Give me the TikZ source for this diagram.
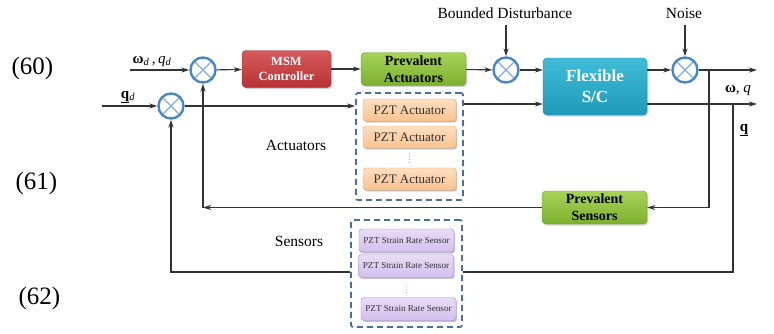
\documentclass[tikz,border=0pt]{standalone}
\usepackage{fontspec}
\setmainfont{Liberation Serif}
\usetikzlibrary{arrows.meta,shadows}

\definecolor{wire}{HTML}{333333}
\definecolor{sumblue}{HTML}{4A86C5}
\definecolor{sumx}{HTML}{7FAEDD}
\definecolor{dashblue}{HTML}{4A6F9C}
\definecolor{redtop}{HTML}{D65A5C}
\definecolor{redbot}{HTML}{B73234}
\definecolor{redrim}{HTML}{982A2C}
\definecolor{greentop}{HTML}{A6D457}
\definecolor{greenbot}{HTML}{7DAF2E}
\definecolor{greenrim}{HTML}{6A9628}
\definecolor{cyantop}{HTML}{40BCD8}
\definecolor{cyanbot}{HTML}{1F9AB8}
\definecolor{cyanrim}{HTML}{1A86A2}
\definecolor{pzttop}{HTML}{FEDFC0}
\definecolor{pztbot}{HTML}{FBC28F}
\definecolor{pztrim}{HTML}{F5A35B}
\definecolor{sentop}{HTML}{E8DCF6}
\definecolor{senbot}{HTML}{D3BFEE}
\definecolor{senrim}{HTML}{A58BD3}

\tikzset{
  wireline/.style={draw=wire, line width=1.1pt},
  arr/.style={wireline, -{Stealth[length=8pt,width=5pt,inset=2.5pt]}},
  sumnode/.style={circle, draw=sumblue, line width=2.4pt, fill=white,
    minimum size=25pt, inner sep=0pt,
    path picture={\draw[sumx, line width=1.2pt]
      (path picture bounding box.north west) -- (path picture bounding box.south east)
      (path picture bounding box.north east) -- (path picture bounding box.south west);}},
  glossbox/.style={rounded corners=4pt, align=center, inner sep=1pt,
    drop shadow={shadow xshift=1.2pt, shadow yshift=-1.6pt, opacity=0.35}},
  redbox/.style={glossbox, draw=redrim, top color=redtop, bottom color=redbot,
    text=white, font=\fontsize{12.5}{15}\selectfont\bfseries},
  greenbox/.style={glossbox, draw=greenrim, top color=greentop, bottom color=greenbot,
    text=black, font=\fontsize{14}{17}\selectfont\bfseries, minimum width=105pt, minimum height=33pt},
  cyanbox/.style={glossbox, draw=cyanrim, top color=cyantop, bottom color=cyanbot,
    text=white, font=\fontsize{17}{21}\selectfont\bfseries},
  pztbox/.style={glossbox, rounded corners=3pt, draw=pztrim, top color=pzttop, bottom color=pztbot,
    text=black!80, font=\fontsize{13}{15}\selectfont, minimum width=93pt, minimum height=22pt,
    drop shadow={shadow xshift=0.8pt, shadow yshift=-1pt, opacity=0.25}},
  sensbox/.style={glossbox, rounded corners=3pt, draw=senrim, top color=sentop, bottom color=senbot,
    text=black!80, font=\fontsize{9.1}{11}\selectfont, minimum width=95pt, minimum height=23pt,
    drop shadow={shadow xshift=0.8pt, shadow yshift=-1pt, opacity=0.25}},
  groupbox/.style={draw=dashblue, line width=1.8pt, dash pattern=on 6pt off 4pt, rounded corners=2pt},
  lbl/.style={font=\fontsize{15.5}{18}\selectfont, inner sep=0pt},
  eqlbl/.style={font=\fontsize{25}{28}\selectfont, inner sep=0pt},
  sym/.style={font=\fontsize{15}{18}\selectfont, inner sep=0pt},
  dotsline/.style={draw=sumx, line width=0.8pt, dotted}
}

\begin{document}
\begin{tikzpicture}[x=1pt,y=-1pt]
\useasboundingbox (0,0) rectangle (774,333);

% equation numbers
\node[eqlbl] (e60) at (32.5,68) {(60)};
\node[eqlbl] (e61) at (36.5,183) {(61)};
\node[eqlbl] (e62) at (39.5,298) {(62)};

% summing junctions
\node[sumnode] (s1) at (203,70) {};
\node[sumnode] (s2) at (171,106) {};
\node[sumnode] (s3) at (506,70) {};
\node[sumnode] (s4) at (685,70) {};

% forward path blocks
\node[redbox, minimum width=89pt, minimum height=37pt] (msm) at (286.5,69) {MSM\\Controller};
\node[greenbox] (pa) at (413.5,69) {Prevalent\\Actuators};
\node[cyanbox, minimum width=104pt, minimum height=57pt] (flex) at (595,86.5) {Flexible\\S/C};
\node[greenbox] (ps) at (594.5,207.5) {Prevalent\\Sensors};

% actuator group
\node[groupbox, minimum width=107pt, minimum height=107pt] (actbox) at (409.5,146.5) {};
\node[pztbox] (a1) at (409.5,110) {PZT Actuator};
\node[pztbox] (a2) at (409.5,137) {PZT Actuator};
\node[pztbox] (a3) at (409.5,179) {PZT Actuator};
\draw[dotsline] (a2.south) ++(0,5) coordinate (ad1) -- (409.5,163) coordinate (ad2);

% sensor group
\node[groupbox, minimum width=111pt, minimum height=107pt] (sbox) at (406.5,273.5) {};
\node[sensbox] (n1) at (406.5,240.5) {PZT Strain Rate Sensor};
\node[sensbox] (n2) at (406,266) {PZT Strain Rate Sensor};
\node[sensbox] (n3) at (408.5,309) {PZT Strain Rate Sensor};
\draw[dotsline] (n2.south) ++(0,6) coordinate (sd1) -- (406.5,293) coordinate (sd2);

% group labels
\node[lbl] (lact) at (296,145) {Actuators};
\node[lbl] (lsen) at (299,241) {Sensors};
\node[lbl, anchor=base] (ldist) at (505,18) {Bounded Disturbance};
\node[lbl, anchor=base] (lnoise) at (684,18) {Noise};

% signal labels
\node[sym, anchor=base] (lwd) at (152,63) {\textbf{ω}\textsubscript{\textit{d}}\,,\,\textit{q}\textsubscript{\textit{d}}};
\node[sym, anchor=base] (lqd) at (128,98) {\underline{\textbf{q}}\textsubscript{\textit{d}}};
\node[sym, anchor=base] (lout) at (738,92) {\textbf{ω}, \textit{q}};
\node[sym, anchor=base] (lq) at (744,131) {\underline{\textbf{q}}};

% reference inputs
\coordinate (in1) at (130,70);
\coordinate (in2) at (102,106);
\draw[arr] (in1) -- (s1);
\draw[arr] (in2) -- (s2);

% forward path
\draw[arr] (s1) -- (msm);
\draw[arr] (msm) -- (pa);
\draw[arr] (pa) -- (s3);
\draw[arr] (s3) -- (s3 -| flex.west);
\draw[arr] (s4 -| flex.east) -- (s4);
\coordinate (out1) at (757,70);
\draw[arr] (s4) -- (out1);

% disturbance and noise inputs
\coordinate (din) at (506,25);
\coordinate (nin) at (685,25);
\draw[arr] (din) -- (s3);
\draw[arr] (nin) -- (s4);

% actuator path
\draw[arr] (s2) -- (s2 -| actbox.west);
\coordinate (ay) at (0,104);
\draw[arr] (actbox.east |- ay) -- (flex.west |- ay);
\coordinate (out2) at (757,104);
\draw[arr] (flex.east |- ay) -- (out2);

% prevalent sensor feedback
\coordinate (t1) at (709,70);
\coordinate (c1) at (203,207.5);
\draw[arr] (t1) |- (ps.east);
\draw[arr] (ps.west) -- (c1);
\draw[arr] (c1) -- (s1);

% PZT sensor feedback
\coordinate (t2) at (733,104);
\coordinate (sy) at (0,272);
\draw[wireline] (t2) |- (sbox.east |- sy);
\draw[arr] (sbox.west |- sy) -| (s2);
\end{tikzpicture}
\end{document}
